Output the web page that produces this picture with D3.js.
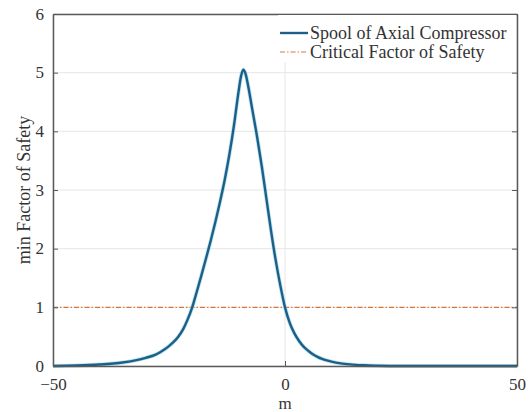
<!DOCTYPE html>
<html>
<head>
<meta charset="utf-8">
<script src="https://cdn.jsdelivr.net/npm/d3@7"></script>
<style>
  body { margin: 0; background: #fff; }
  text { font-family: "Liberation Serif", "DejaVu Serif", serif; fill: #333; }
</style>
</head>
<body>
<div id="chart"></div>
<script>
// values
const xs = [-50, -45, -40, -35, -32, -30, -28, -27, -26, -25, -24, -23, -22, -21, -20, -19, -18, -17, -16, -15, -14, -13, -12, -11, -10, -9.5, -9,
            -8.5, -8, -7, -6, -5, -4, -3, -2, -1, 0, 1, 2, 3, 4, 5, 6, 7, 8, 9, 10, 12, 14, 17, 20, 25, 50]
const spool = [0, 0.008, 0.025, 0.06, 0.1, 0.14, 0.19, 0.23, 0.28, 0.34, 0.41, 0.5, 0.62, 0.79, 1.0, 1.27, 1.55, 1.84, 2.14, 2.46, 2.8, 3.17, 3.6, 4.1, 4.68, 4.93, 5.05,
               4.98, 4.8, 4.35, 3.9, 3.4, 2.85, 2.3, 1.8, 1.37, 1.0, 0.74, 0.56, 0.43, 0.33, 0.26, 0.2, 0.155, 0.12, 0.095, 0.075,
               0.045, 0.027, 0.012, 0.005, 0, 0]
const criticalFactor = 1
const xTicks = [-50, 0, 50]
const yTicks = [0, 1, 2, 3, 4, 5, 6]
const seriesNames = ["Spool of Axial Compressor", "Critical Factor of Safety"]

const W = 531, H = 412
const margin = { top: 14, right: 14, bottom: 46, left: 53 }
const width = W - margin.left - margin.right,
    height = H - margin.top - margin.bottom

const svg = d3.select("#chart").append("svg")
    .attr("width", W)
    .attr("height", H)

const g = svg.append("g").attr("transform", `translate(${margin.left},${margin.top})`)

const x = d3.scaleLinear().domain([-50, 50]).range([0, width])
const y = d3.scaleLinear().domain([0, 6]).range([height, 0])

// grid
g.append("g").selectAll("line").data(yTicks).enter().append("line")
    .attr("x1", 0).attr("x2", width)
    .attr("y1", d => y(d)).attr("y2", d => y(d))
    .style("stroke", "#e6e6e6").style("stroke-width", 1)
g.append("g").selectAll("line").data(xTicks).enter().append("line")
    .attr("y1", 0).attr("y2", height)
    .attr("x1", d => x(d)).attr("x2", d => x(d))
    .style("stroke", "#e6e6e6").style("stroke-width", 1)

// critical factor line
g.append("line")
    .attr("x1", 0).attr("x2", width)
    .attr("y1", y(criticalFactor)).attr("y2", y(criticalFactor))
    .style("stroke", "#d9763a").style("stroke-width", 1.2)
    .style("stroke-dasharray", "5,2,1.5,2")

// curve
const line = d3.line()
    .x((d, i) => x(xs[i]))
    .y(d => y(d))
    .curve(d3.curveMonotoneX)

g.append("path")
    .datum(spool)
    .attr("d", line)
    .style("fill", "none")
    .style("stroke", "#8fd3ea")
    .style("stroke-width", 4)
    .style("opacity", 0.6)
g.append("path")
    .datum(spool)
    .attr("d", line)
    .style("fill", "none")
    .style("stroke", "#1d5f87")
    .style("stroke-width", 2.4)

// axes (inward ticks, boxed)
const axisColor = "#5a5a5a"
const xAxis = g.append("g").attr("transform", `translate(0,${height})`)
    .call(d3.axisBottom(x).tickValues(xTicks).tickSizeInner(-5).tickSizeOuter(0).tickPadding(12).tickFormat(d3.format("d")))
const yAxis = g.append("g")
    .call(d3.axisLeft(y).tickValues(yTicks).tickSizeInner(-5).tickSizeOuter(0).tickPadding(9).tickFormat(d3.format("d")))
const xTop = g.append("g")
    .call(d3.axisTop(x).tickValues(xTicks).tickSizeInner(-5).tickSizeOuter(0).tickFormat(""))
const yRight = g.append("g").attr("transform", `translate(${width},0)`)
    .call(d3.axisRight(y).tickValues(yTicks).tickSizeInner(-5).tickSizeOuter(0).tickFormat(""))

for (const a of [xAxis, yAxis, xTop, yRight]) {
    a.select(".domain").style("stroke", axisColor).style("stroke-width", 1.5)
    a.selectAll(".tick line").style("stroke", axisColor)
    a.selectAll("text").style("font-family", "Liberation Serif").style("font-size", "17px").style("fill", "#333")
}
xAxis.selectAll("text").attr("dy", "0.71em")
yAxis.selectAll("text").attr("dy", "0.3em")

// legend
const leg = g.append("g").attr("transform", `translate(${x(-1.5)},0)`)
leg.append("rect")
    .attr("x", 0).attr("y", 1)
    .attr("width", width - x(-1.5) - 1).attr("height", 47)
    .style("fill", "#fff")
leg.append("line")
    .attr("x1", 2).attr("x2", 30).attr("y1", 19).attr("y2", 19)
    .style("stroke", "#1d5f87").style("stroke-width", 2.4)
leg.append("line")
    .attr("x1", 2).attr("x2", 30).attr("y1", 38).attr("y2", 38)
    .style("stroke", "#d9763a").style("stroke-width", 1.2)
    .style("stroke-dasharray", "5,2,1.5,2")
leg.selectAll("text.lab").data(seriesNames).enter().append("text")
    .attr("class", "lab")
    .attr("x", 32)
    .attr("y", (d, i) => 19 + i * 19)
    .attr("dy", "0.32em")
    .style("font-size", "18px")
    .text(d => d)

// axis labels
svg.append("text")
    .attr("x", margin.left + x(0))
    .attr("y", 409)
    .attr("text-anchor", "middle")
    .style("font-size", "17px")
    .text("m")
svg.append("text")
    .attr("transform", `translate(30,${margin.top + height / 2}) rotate(-90)`)
    .attr("text-anchor", "middle")
    .style("font-size", "18px")
    .text("min Factor of Safety")
</script>
</body>
</html>
